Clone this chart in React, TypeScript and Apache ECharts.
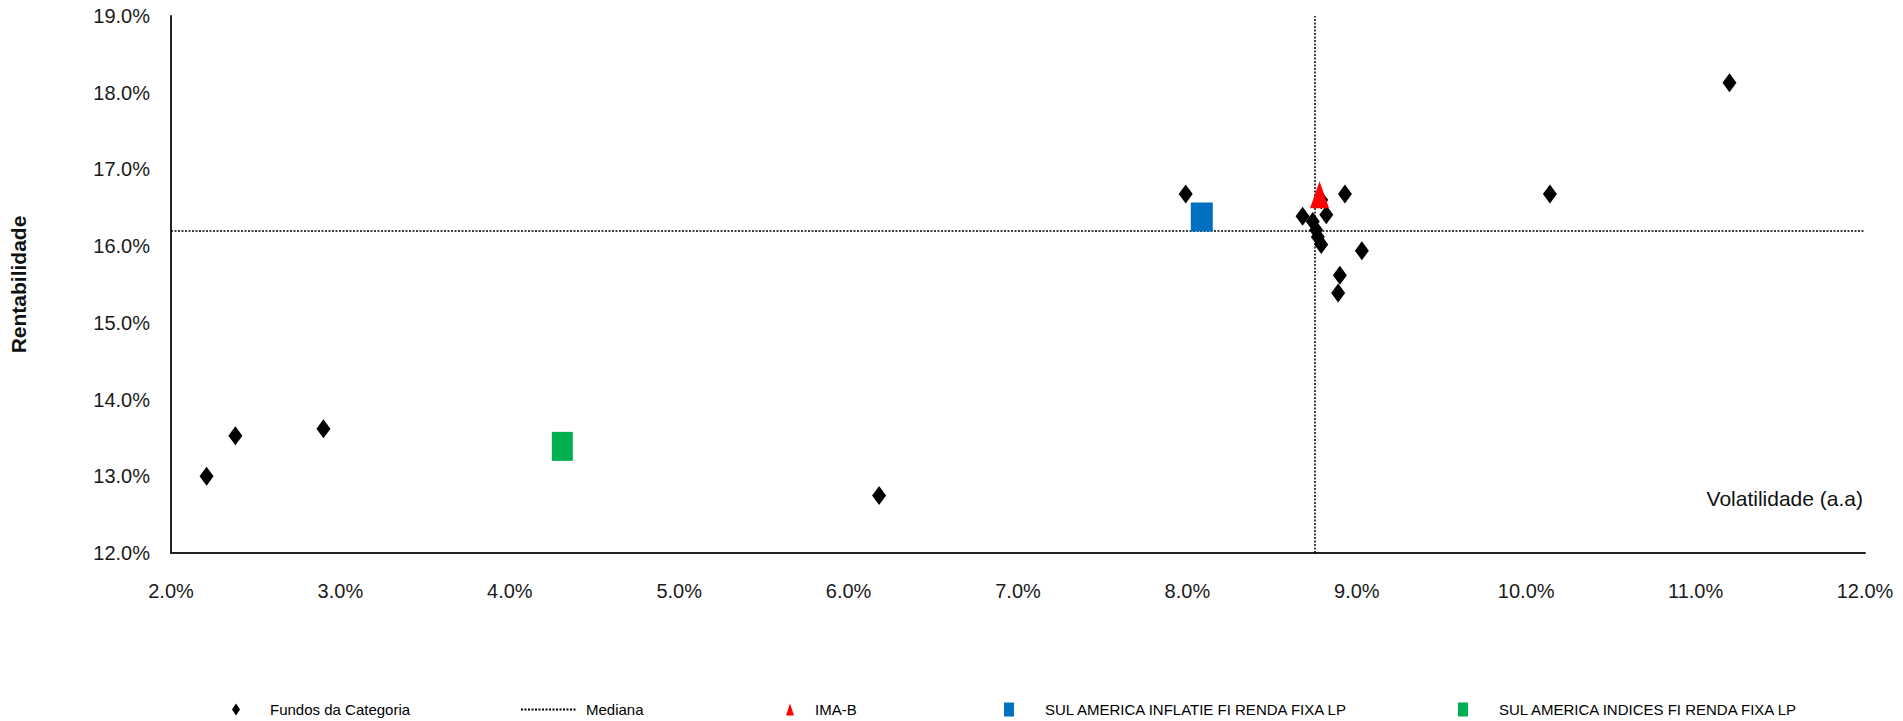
import React, { useEffect, useRef } from "react";
import * as echarts from "echarts";

const FONT = "'Liberation Sans', Arial, sans-serif";

// Volatilidade (x, %) / Rentabilidade (y, %)
const fundosCategoria: [number, number][] = [
  [11.2, 18.13],
  [10.14, 16.68],
  [7.99, 16.68],
  [8.93, 16.68],
  [8.79, 16.6],
  [8.68, 16.39],
  [8.82, 16.41],
  [8.74, 16.32],
  [8.76, 16.21],
  [8.77, 16.12],
  [8.79, 16.02],
  [9.03, 15.94],
  [8.9, 15.62],
  [8.89, 15.39],
  [2.9, 13.62],
  [2.38, 13.53],
  [2.21, 13.0],
  [6.18, 12.75],
];
const imaB: [number, number][] = [[8.78, 16.67]];
const inflatie: [number, number][] = [[8.085, 16.38]];
const indices: [number, number][] = [[4.31, 13.39]];
const medianaX = 8.75;
const medianaY = 16.2;

const names = [
  "Fundos da Categoria",
  "Mediana",
  "IMA-B",
  "SUL AMERICA INFLATIE FI RENDA FIXA LP",
  "SUL AMERICA INDICES FI RENDA FIXA LP",
];

const xMin = 2, xMax = 12, xStep = 1;
const yMin = 12, yMax = 19, yStep = 1;

export default function App() {
  const ref = useRef<HTMLDivElement>(null);
  useEffect(() => {
    if (!ref.current) return;
    const chart = echarts.init(ref.current, null, { renderer: "svg" });
    const legendText = (pad: number) => ({
      fontFamily: FONT,
      fontSize: 15,
      color: "#000",
      padding: [0, 0, 0, pad],
    });
    const legendTop = 697;
    chart.setOption({
      animation: false,
      backgroundColor: "#fff",
      grid: { left: 162, right: 38, top: 16, bottom: 168 },
      legend: [
        { data: [names[0]], left: 227, top: legendTop, itemWidth: 8, itemHeight: 12, textStyle: legendText(25) },
        {
          data: [names[1]],
          left: 515,
          top: legendTop,
          itemWidth: 55,
          itemHeight: 12,
          itemStyle: { opacity: 0 },
          textStyle: legendText(5),
        },
        { data: [names[2]], left: 781, top: legendTop, itemWidth: 8, itemHeight: 12, textStyle: legendText(16) },
        { data: [names[3]], left: 999, top: legendTop, itemWidth: 10, itemHeight: 14, textStyle: legendText(26) },
        { data: [names[4]], left: 1453, top: legendTop, itemWidth: 10, itemHeight: 14, textStyle: legendText(26) },
      ],
      xAxis: {
        type: "value",
        min: xMin,
        max: xMax,
        interval: xStep,
        name: "Volatilidade (a.a)",
        nameLocation: "end",
        nameGap: -2,
        nameTextStyle: {
          fontFamily: FONT,
          fontSize: 21,
          color: "#111",
          align: "right",
          verticalAlign: "bottom",
          padding: [0, 0, 44, 0],
        },
        axisLine: { show: true, lineStyle: { color: "#222", width: 2 } },
        axisTick: { show: false },
        splitLine: { show: false },
        axisLabel: {
          margin: 28,
          fontFamily: FONT,
          fontSize: 20,
          color: "#1a1a1a",
          formatter: (v: number) => v.toFixed(1) + "%",
        },
      },
      yAxis: {
        type: "value",
        min: yMin,
        max: yMax,
        interval: yStep,
        name: "Rentabilidade",
        nameLocation: "middle",
        nameGap: 142,
        nameTextStyle: {
          fontFamily: FONT,
          fontSize: 21,
          fontWeight: "bold",
          color: "#111",
        },
        axisLine: { show: true, lineStyle: { color: "#222", width: 2 } },
        axisTick: { show: false },
        splitLine: { show: false },
        axisLabel: {
          margin: 21,
          fontFamily: FONT,
          fontSize: 20,
          color: "#1a1a1a",
          formatter: (v: number) => v.toFixed(1) + "%",
        },
      },
      series: [
        {
          name: names[0],
          type: "scatter",
          symbol: "diamond",
          symbolSize: [14, 19],
          itemStyle: { color: "#000", opacity: 1 },
          data: fundosCategoria,
          z: 3,
        },
        {
          name: names[1],
          type: "line",
          symbol: "none",
          data: [],
          lineStyle: { color: "#000", width: 1.5, type: [2, 1.5] },
          itemStyle: { color: "#000" },
          z: 1,
          markLine: {
            silent: true,
            symbol: "none",
            z: 1,
            label: { show: false },
            lineStyle: { color: "#000", width: 1.5, type: [2, 1.5] },
            data: [{ xAxis: medianaX }, { yAxis: medianaY }],
          },
        },
        {
          name: names[2],
          type: "scatter",
          symbol: "triangle",
          symbolSize: [19, 27],
          itemStyle: { color: "#FF0000", opacity: 1 },
          data: imaB,
          z: 4,
        },
        {
          name: names[3],
          type: "scatter",
          symbol: "rect",
          symbolSize: [22, 29],
          itemStyle: { color: "#0070C0", opacity: 1 },
          data: inflatie,
          z: 4,
        },
        {
          name: names[4],
          type: "scatter",
          symbol: "rect",
          symbolSize: [21, 29],
          itemStyle: { color: "#00B050", opacity: 1 },
          data: indices,
          z: 4,
        },
      ],
    });
    return () => chart.dispose();
  }, []);
  return (
    <div
      ref={ref}
      style={{ position: "fixed", left: 0, top: 0, width: 1903, height: 721, background: "#fff" }}
    />
  );
}
